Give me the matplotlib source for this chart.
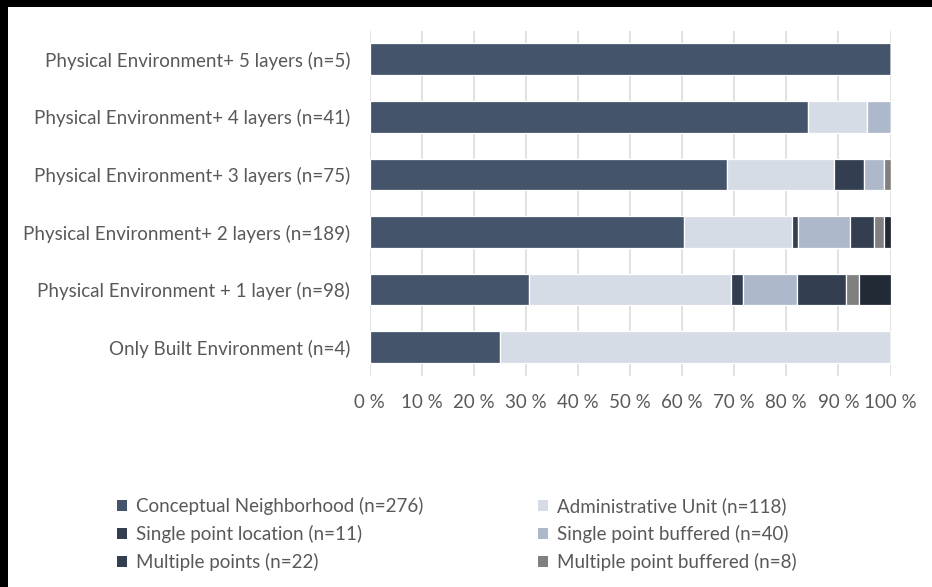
import matplotlib
matplotlib.use("Agg")
import matplotlib.pyplot as plt
from matplotlib.patches import Patch, Rectangle

# Category rows, top to bottom
categories = [
    "Physical Environment+ 5 layers (n=5)",
    "Physical Environment+ 4 layers (n=41)",
    "Physical Environment+ 3 layers (n=75)",
    "Physical Environment+ 2 layers (n=189)",
    "Physical Environment + 1 layer (n=98)",
    "Only Built Environment (n=4)",
]

series_names = [
    "Conceptual Neighborhood (n=276)",
    "Administrative Unit (n=118)",
    "Single point location (n=11)",
    "Single point buffered (n=40)",
    "Multiple points (n=22)",
    "Multiple point buffered (n=8)",
    "Other",
]
in_legend = [True, True, True, True, True, True, False]

# Share (%) of each series within each row (rows in the order of `categories`)
conceptual   = [100.0, 84.1, 68.7, 60.3, 30.7, 25.0]
admin_unit   = [0.0, 11.4, 20.5, 20.7, 38.6, 75.0]
single_loc   = [0.0, 0.0, 5.8, 1.3, 2.4, 0.0]
single_buf   = [0.0, 4.5, 3.7, 9.9, 10.3, 0.0]
multi_pts    = [0.0, 0.0, 0.0, 4.7, 9.5, 0.0]
multi_buf    = [0.0, 0.0, 1.3, 1.8, 2.5, 0.0]
other        = [0.0, 0.0, 0.0, 1.3, 6.0, 0.0]

series_values = [conceptual, admin_unit, single_loc, single_buf, multi_pts, multi_buf, other]
colors = ["#44546A", "#D6DCE5", "#333F50", "#ADB9CA", "#333F50", "#808080", "#222A35"]

x_ticks = list(range(0, 101, 10))
x_tick_labels = [f"{t} %" for t in x_ticks]

W, H, DPI = 932, 587, 100
fig = plt.figure(figsize=(W / DPI, H / DPI), dpi=DPI)
fig.patch.set_facecolor("white")

font = "Lato"
fsize = 13.5
text_color = "#595959"

ax = fig.add_axes([369.5 / W, 1 - 376 / H, 521 / W, (376 - 30.5) / H])
ax.set_facecolor("white")

n = len(categories)
ypos = list(range(n - 1, -1, -1))  # first category at the top
left = [0.0] * n
for name, vals, col, show in zip(series_names, series_values, colors, in_legend):
    ax.barh(ypos, vals, left=left, height=0.55, color=col,
            edgecolor="white", linewidth=0.9, zorder=3,
            label=name if show else "_nolegend_")
    left = [l + v for l, v in zip(left, vals)]

ax.set_xlim(0, 100)
ax.set_ylim(-0.5, n - 0.5)
ax.set_yticks(ypos)
ax.set_yticklabels(categories, fontfamily=font, fontsize=fsize, color=text_color)
ax.set_xticks(x_ticks)
ax.set_xticklabels(x_tick_labels, fontfamily=font, fontsize=fsize, color=text_color)
ax.tick_params(axis="y", length=0, pad=14)
ax.tick_params(axis="x", length=0, pad=13)
ax.grid(axis="x", color="#D9D9D9", linewidth=1.1, zorder=0)
ax.set_axisbelow(True)
for s in ax.spines.values():
    s.set_visible(False)

# Two-column legend laid out row by row
handles = [Patch(facecolor=c, edgecolor="none") for c in colors[:6]]
left_col = [0, 2, 4]
right_col = [1, 3, 5]
for idx, xa in ((left_col, 100 / W), (right_col, 521 / W)):
    leg = fig.legend([handles[i] for i in idx], [series_names[i] for i in idx],
                     loc="upper left", bbox_to_anchor=(xa, 1 - 480 / H),
                     frameon=False, handlelength=0.55, handleheight=0.55,
                     handletextpad=0.45, labelspacing=0.53,
                     prop={"family": font, "size": fsize})
    for t in leg.get_texts():
        t.set_color(text_color)

# Dark frame along the top and left edges
fig.add_artist(Rectangle((0, 0), 8 / W, 1, transform=fig.transFigure,
                         facecolor="black", edgecolor="none", zorder=10))
fig.add_artist(Rectangle((0, 1 - 7 / H), 1, 7 / H, transform=fig.transFigure,
                         facecolor="black", edgecolor="none", zorder=10))

fig.savefig("out.png", dpi=DPI, facecolor="white")
